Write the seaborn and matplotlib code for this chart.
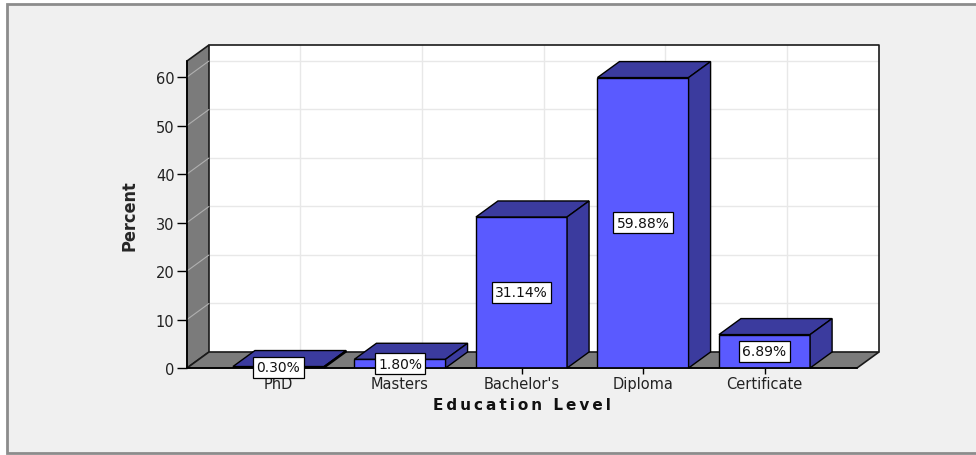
import matplotlib
matplotlib.use("Agg")
import matplotlib.pyplot as plt
from matplotlib.patches import Polygon, Rectangle
from matplotlib import font_manager
import seaborn as sns
import pandas as pd

# Education level distribution (percent of respondents)
categories = ["PhD", "Masters", "Bachelor's", "Diploma", "Certificate"]
percents = [0.30, 1.80, 31.14, 59.88, 6.89]
yticks = [0, 10, 20, 30, 40, 50, 60]

sns.set_style("white")
plt.rcParams["font.family"] = ["DejaVu Sans"]

FRONT = "#5a5aff"
SHADE = "#3b3b9e"
WALL = "#7b7b7b"
GRID = "#e8e8e8"
EDGE = "#1a1a1a"

W, H = 976, 456
fig = plt.figure(figsize=(W / 100, H / 100), dpi=100, facecolor="white")

# panel background with frame
fig.patches.append(Rectangle((7 / W, 1 - 454 / H), 1.0, (454 - 5) / H,
                             transform=fig.transFigure, facecolor="#f0f0f0",
                             edgecolor="#8c8c8c", linewidth=2, zorder=-5))

ax = fig.add_axes([187 / W, 1 - 369 / H, 670 / W, 307 / H])
ax.set_facecolor("none")
ax.set_zorder(1)

# pseudo-3D geometry (data units)
XMIN, XMAX = -0.753, 4.761
YTOP = 63.3
DX, DY = 0.181, 3.3
BW = 0.75

# back wall
ax.add_patch(Polygon([(XMIN + DX, DY), (XMAX + DX, DY), (XMAX + DX, YTOP + DY),
                      (XMIN + DX, YTOP + DY)], closed=True, facecolor="white",
                     edgecolor="none", zorder=0.5, clip_on=False))
for v in yticks[1:]:
    ax.plot([XMIN + DX, XMAX + DX], [v + DY, v + DY], color=GRID, lw=1,
            zorder=0.6, clip_on=False)
for i in range(len(categories)):
    ax.plot([i + DX, i + DX], [DY, YTOP + DY], color=GRID, lw=1,
            zorder=0.6, clip_on=False)
ax.plot([XMIN + DX, XMAX + DX, XMAX + DX], [YTOP + DY, YTOP + DY, DY],
        color=EDGE, lw=1.2, zorder=0.65, clip_on=False)

# left wall and floor
ax.add_patch(Polygon([(XMIN, 0), (XMIN + DX, DY), (XMIN + DX, YTOP + DY), (XMIN, YTOP)],
                     closed=True, facecolor=WALL, edgecolor=EDGE, lw=1.2,
                     zorder=0.7, clip_on=False))
ax.add_patch(Polygon([(XMIN, 0), (XMAX, 0), (XMAX + DX, DY), (XMIN + DX, DY)],
                     closed=True, facecolor=WALL, edgecolor=EDGE, lw=1.2,
                     zorder=0.7, clip_on=False))
for v in yticks[1:]:
    ax.plot([XMIN, XMIN + DX], [v, v + DY], color="#b0b0b0", lw=0.8,
            zorder=0.8, clip_on=False)

# front faces of the bars
df = pd.DataFrame({"level": categories, "pct": percents})
sns.barplot(data=df, x="level", y="pct", width=BW, color=FRONT, saturation=1,
            edgecolor="black", linewidth=1, errorbar=None, ax=ax, zorder=2)

# top and side faces, value labels
for i, h in enumerate(percents):
    l, r = i - BW / 2, i + BW / 2
    ax.add_patch(Polygon([(l, h), (r, h), (r + DX, h + DY), (l + DX, h + DY)],
                         closed=True, facecolor=SHADE, edgecolor="black", lw=1,
                         zorder=2.1, clip_on=False))
    ax.add_patch(Polygon([(r, 0), (r + DX, DY), (r + DX, h + DY), (r, h)],
                         closed=True, facecolor=SHADE, edgecolor="black", lw=1,
                         zorder=2.1, clip_on=False))
    ax.text(i, h / 2, f"{h:.2f}%", ha="center", va="center", fontsize=10,
            color="#111111", zorder=6,
            bbox=dict(boxstyle="square,pad=0.25", fc="white", ec="black", lw=0.9))

ax.set_xlim(XMIN, XMAX)
ax.set_ylim(0, YTOP)
ax.set_yticks(yticks)
ax.set_xlabel("")
ax.set_ylabel("")
ax.tick_params(axis="both", bottom=True, left=True, direction="out",
               width=1, color="black", labelsize=10.5, labelcolor="#222222")
ax.tick_params(axis="y", length=7, pad=2)
ax.tick_params(axis="x", length=4.5, pad=1)
for s in ("top", "right"):
    ax.spines[s].set_visible(False)
for s in ("left", "bottom"):
    ax.spines[s].set_color("black")
    ax.spines[s].set_linewidth(1.2)

# axis titles
names = {f.name for f in font_manager.fontManager.ttflist}
if "Liberation Sans Narrow" in names:
    fig.text(129 / W, 1 - 216 / H, "Percent", rotation=90, ha="center", va="center",
             fontsize=15, fontweight="bold", family=["Liberation Sans Narrow", "DejaVu Sans"])
else:
    fig.text(129 / W, 1 - 216 / H, "Percent", rotation=90, ha="center", va="center",
             fontsize=13, fontweight="bold", fontstretch="condensed")

fig.text(522 / W, 1 - 406 / H, "\u2009".join("Education Level"), ha="center",
         va="center", fontsize=11, fontweight="bold", color="#111111")

fig.savefig("out.png", dpi=100, facecolor=fig.get_facecolor())
